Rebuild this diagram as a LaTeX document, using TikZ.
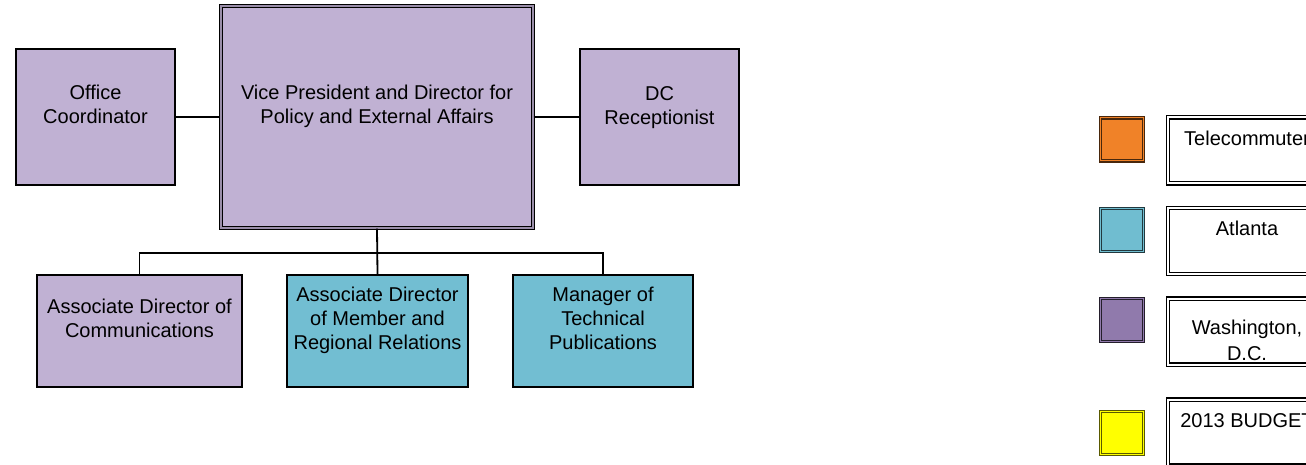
\documentclass[tikz,border=0pt]{standalone}
\usepackage{fontspec}
\setmainfont{Liberation Sans}
\definecolor{lav}{RGB}{192,177,211}
\definecolor{teal2}{RGB}{114,190,210}
\definecolor{lgorange}{RGB}{240,130,40}
\definecolor{lgteal}{RGB}{112,189,208}
\definecolor{lgpurple}{RGB}{144,122,172}
\definecolor{lgyellow}{RGB}{255,255,0}
\tikzset{
  box/.style={draw=black, line width=1.2pt, inner sep=0pt},
  txt/.style={font=\fontsize{20}{24}\selectfont, align=center, inner sep=0pt},
  conn/.style={draw=black, line width=1.3pt},
  swatch/.style={line width=1.1pt, double distance=1pt, inner sep=0pt, minimum width=43pt, minimum height=43pt},
  legbox/.style={draw=black, line width=1.1pt, double=white, double distance=2pt, fill=white, inner sep=0pt, minimum width=158pt, minimum height=66pt},
}
\begin{document}
\begin{tikzpicture}[x=1pt,y=-1pt]
\useasboundingbox (0,0) rectangle (1306,465);
\clip (0,0) rectangle (1306,465);
\fill[white] (0,0) rectangle (1306,465);
% top row
\node[box, fill=lav, minimum width=159pt, minimum height=136pt,
  label={[txt, yshift=13pt]center:Office\\Coordinator}] (oc) at (95.5,117) {};
\node[box, fill=lav, line width=1.1pt, double=lav!80!black, double distance=2pt, minimum width=312pt, minimum height=222pt,
  label={[txt, yshift=11pt]center:Vice President and Director for\\Policy and External Affairs}] (vp) at (377,117) {};
\node[box, fill=lav, minimum width=159pt, minimum height=136pt,
  label={[txt, yshift=9pt]center:DC\\Receptionist}] (dc) at (659.5,117) {};
% bottom row
\node[box, fill=lav, minimum width=205pt, minimum height=112pt,
  label={[txt, yshift=13pt]center:Associate Director of\\Communications}] (comms) at (139.5,331) {};
\node[box, fill=teal2, minimum width=181pt, minimum height=112pt,
  label={[txt, yshift=11pt]center:Associate Director\\of Member and\\Regional Relations}] (mem) at (377.5,331) {};
\node[box, fill=teal2, minimum width=180pt, minimum height=112pt,
  label={[txt, yshift=13pt]center:Manager of\\Technical\\Publications}] (man) at (603,331) {};
% connectors
\coordinate (bus) at (377.5,253);
\draw[conn] (oc.east) -- (vp.west);
\draw[conn] (vp.east) -- (dc.west);
\draw[conn, line width=1.8pt] (vp.south) -- (mem.north);
\draw[conn] (comms.north) |- (bus) -| (man.north);
% legend swatches
\node[swatch, draw=lgorange!30!black, double=lgorange, fill=lgorange] (s1) at (1122,139.5) {};
\node[swatch, draw=lgteal!30!black, double=lgteal, fill=lgteal] (s2) at (1122,230) {};
\node[swatch, draw=lgpurple!25!black, double=lgpurple, fill=lgpurple] (s3) at (1122,320) {};
\node[swatch, draw=lgyellow!35!black, double=lgyellow, fill=lgyellow] (s4) at (1122,433) {};
% legend boxes
\node[legbox, label={[txt, yshift=12.5pt]center:Telecommuter}] (l1) at (1247,150.5) {};
\node[legbox, label={[txt, yshift=13pt]center:Atlanta}] (l2) at (1247,241) {};
\node[legbox, label={[txt, font=\fontsize{20}{26}\selectfont, yshift=-8.5pt]center:Washington,\\D.C.}] (l3) at (1247,331.5) {};
\node[legbox, label={[txt, yshift=12pt]center:2013 BUDGET}] (l4) at (1247,432.5) {};
\end{tikzpicture}
\end{document}
